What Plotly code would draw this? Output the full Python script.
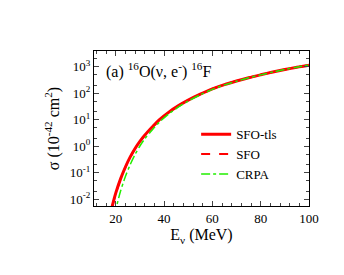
import plotly.graph_objects as go

energy = [17, 18, 19, 20, 22, 24, 26, 28, 30, 32, 35, 38, 42, 46, 50, 55, 60, 65, 70, 75, 80, 85, 90, 95, 100]
sfo_tls = [0.00122, 0.00327, 0.00785, 0.0168, 0.0582, 0.164, 0.394, 0.822, 1.53, 2.6, 5.19, 10, 19.5, 34.3, 55.6, 93.3, 148, 214, 292, 389, 501, 638, 794, 966, 1148]
sfo = [0.00115, 0.0031, 0.0075, 0.0161, 0.0563, 0.159, 0.384, 0.805, 1.5, 2.56, 5.12, 9.9, 19.3, 34.0, 55.2, 92.8, 147.5, 213.5, 291.5, 388.5, 500.5, 637.5, 793.5, 965.5, 1147]
crpa_e = [18, 20, 22, 24, 26, 28, 30, 32, 35, 38, 42, 46, 50, 55, 60, 65, 70, 75, 80, 85, 90, 95, 100]
crpa = [0.00051, 0.0039, 0.0202, 0.0716, 0.204, 0.491, 1.02, 1.89, 4.03, 8.04, 16.8, 30.5, 51.1, 87.7, 141, 208, 286, 385, 499, 638, 800, 975, 1160]

y_tickvals = [0.01, 0.1, 1, 10, 100, 1000]
y_ticktext = ["10<sup>-2</sup>", "10<sup>-1</sup>", "10<sup>0</sup>", "10<sup>1</sup>", "10<sup>2</sup>", "10<sup>3</sup>"]
x_tickvals = [20, 40, 60, 80, 100]

font_family = "Liberation Serif, Times New Roman, serif"

fig = go.Figure()
fig.add_trace(go.Scatter(x=energy, y=sfo_tls, mode="lines", name="SFO-tls",
                         line=dict(color="#ff0000", width=3, shape="spline", smoothing=0.8)))
fig.add_trace(go.Scatter(x=energy, y=sfo, mode="lines", name="SFO",
                         line=dict(color="#ff0000", width=2, dash="dash", shape="spline", smoothing=0.8)))
fig.add_trace(go.Scatter(x=crpa_e, y=crpa, mode="lines", name="CRPA",
                         line=dict(color="#22ee00", width=1.5, dash="dashdot", shape="spline", smoothing=0.8)))

fig.update_layout(
    width=344, height=275,
    margin=dict(l=86, r=43, t=43, b=77),
    paper_bgcolor="white", plot_bgcolor="white",
    font=dict(family=font_family, size=13, color="black"),
    showlegend=True,
    legend=dict(x=0.475, y=0.56, xanchor="left", yanchor="top",
                bgcolor="rgba(0,0,0,0)", font=dict(size=13, family=font_family),
                tracegroupgap=0, itemwidth=30),
    annotations=[dict(x=0.045, y=0.875, xref="paper", yref="paper", xanchor="left", yanchor="middle",
                      text="(a) <sup>16</sup>O(ν, e<sup>-</sup>) <sup>16</sup>F", showarrow=False,
                      font=dict(size=16, family=font_family))],
)

fig.update_xaxes(range=[11, 100], tickvals=x_tickvals, ticks="inside", ticklen=5,
                 showline=True, linecolor="black", linewidth=1, mirror="allticks",
                 showgrid=False, zeroline=False,
                 minor=dict(ticks="inside", ticklen=3, dtick=4, tick0=0, showgrid=False),
                 title=dict(text="E<sub>ν</sub> (MeV)", font=dict(size=16, family=font_family), standoff=4),
                 tickfont=dict(size=13, family=font_family))
fig.update_yaxes(type="log", range=[-2.26, 3.6], tickvals=y_tickvals, ticktext=y_ticktext,
                 ticks="inside", ticklen=5,
                 showline=True, linecolor="black", linewidth=1, mirror="allticks",
                 showgrid=False, zeroline=False,
                 minor=dict(ticks="inside", ticklen=3, showgrid=False),
                 title=dict(text="σ (10<sup>-42</sup> cm<sup>2</sup>)", font=dict(size=16, family=font_family), standoff=6),
                 tickfont=dict(size=13, family=font_family))

fig.write_html("out.html")
